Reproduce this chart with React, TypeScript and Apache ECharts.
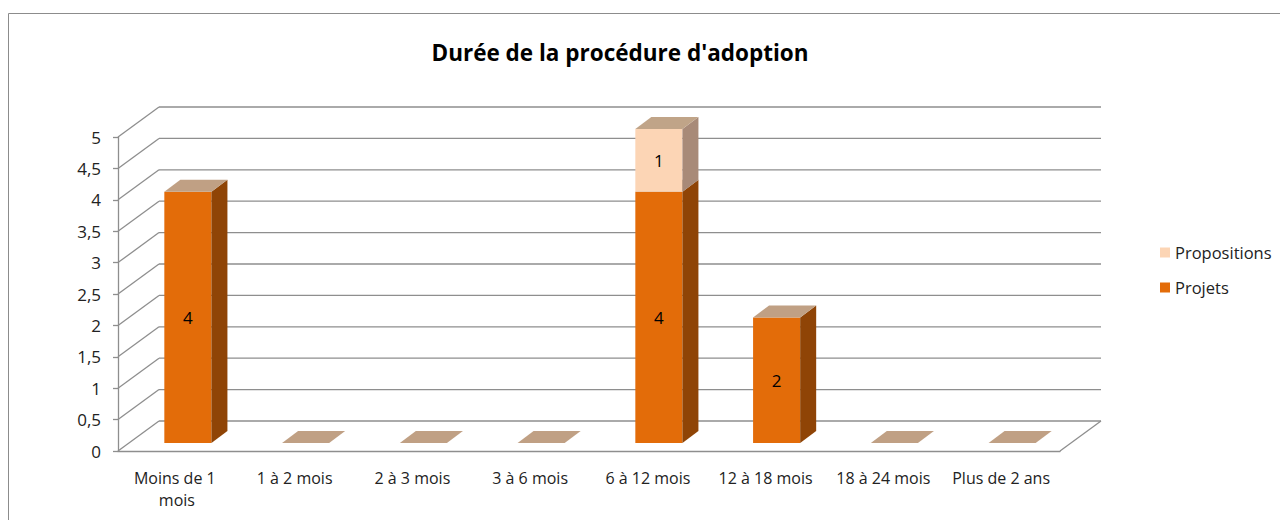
import React, { useEffect, useRef } from "react";
import * as echarts from "echarts";

const categories = [
  "Moins de 1 mois",
  "1 à 2 mois",
  "2 à 3 mois",
  "3 à 6 mois",
  "6 à 12 mois",
  "12 à 18 mois",
  "18 à 24 mois",
  "Plus de 2 ans",
];
const projets = [4, 0, 0, 0, 4, 2, 0, 0];
const propositions = [0, 0, 0, 0, 1, 0, 0, 0];
const yTicks = [0, 0.5, 1, 1.5, 2, 2.5, 3, 3.5, 4, 4.5, 5];

const FONT = "'Open Sans', 'Liberation Sans', sans-serif";
const GRID_COLOR = "#8E8E8E";
const BACK_DX = 41;
const BACK_DY = -30;
const BAR_DX = 11;
const BAR_DY = -8;
const DEPTH_DX = 16;
const DEPTH_DY = -12;

export default function App() {
  const ref = useRef<HTMLDivElement>(null);

  useEffect(() => {
    document.body.style.margin = "0";
    if (!ref.current) return;
    const chart = echarts.init(ref.current, undefined, { renderer: "svg" });

    const wallsRender = (params: any, api: any) => {
      const v = api.value(0);
      const cs = params.coordSys;
      const y = api.coord([0, v])[1];
      const left = cs.x;
      const right = cs.x + cs.width;
      const lineStyle = { stroke: GRID_COLOR, lineWidth: 1.3, fill: "none" };
      const children: any[] = [
        {
          type: "line",
          shape: { x1: left + BACK_DX, y1: y + BACK_DY, x2: right + BACK_DX, y2: y + BACK_DY },
          style: lineStyle,
        },
        {
          type: "line",
          shape: { x1: left, y1: y, x2: left + BACK_DX, y2: y + BACK_DY },
          style: lineStyle,
        },
      ];
      if (v === 0) {
        children.push({
          type: "line",
          shape: { x1: right, y1: y, x2: right + BACK_DX, y2: y + BACK_DY },
          style: lineStyle,
        });
      }
      return { type: "group", children };
    };

    const makeBarRender = (front: string, side: string, top: string, values: number[], bases: number[], isBase: boolean) =>
      (params: any, api: any) => {
        const i = params.dataIndex;
        const val = values[i];
        const base = bases[i];
        if (!isBase && val === 0) return { type: "group", children: [] };
        const p0 = api.coord([i, base]);
        const p1 = api.coord([i, base + val]);
        const w = api.size([1, 0])[0] * 0.4;
        const xc = p0[0] + BAR_DX;
        const xl = xc - w / 2;
        const xr = xc + w / 2;
        const yb = p0[1] + BAR_DY;
        const yt = p1[1] + BAR_DY;
        const children: any[] = [];
        if (val > 0) {
          children.push({
            type: "rect",
            shape: { x: xl, y: yt, width: w, height: yb - yt },
            style: { fill: front },
          });
          children.push({
            type: "polygon",
            shape: {
              points: [
                [xr, yb],
                [xr + DEPTH_DX, yb + DEPTH_DY],
                [xr + DEPTH_DX, yt + DEPTH_DY],
                [xr, yt],
              ],
            },
            style: { fill: side },
          });
        }
        children.push({
          type: "polygon",
          shape: {
            points: [
              [xl, yt],
              [xr, yt],
              [xr + DEPTH_DX, yt + DEPTH_DY],
              [xl + DEPTH_DX, yt + DEPTH_DY],
            ],
          },
          style: { fill: top },
        });
        if (val > 0) {
          children.push({
            type: "text",
            style: {
              text: String(val),
              x: xc,
              y: (yt + yb) / 2,
              align: "center",
              verticalAlign: "middle",
              fill: "#000000",
              font: `17px ${FONT}`,
            },
          });
        }
        return { type: "group", children };
      };

    const zeros = categories.map(() => 0);

    chart.setOption({
      animation: false,
      backgroundColor: "#ffffff",
      title: {
        text: "Durée de la procédure d'adoption",
        left: 615,
        textAlign: "center",
        top: 36,
        textStyle: { fontFamily: FONT, fontSize: 22.5, fontWeight: "bold", color: "#000000" },
      },
      graphic: [
        {
          type: "rect",
          shape: { x: 8.5, y: 13.5, width: 1400, height: 600 },
          style: { fill: "none", stroke: "#8C8C8C", lineWidth: 1 },
          silent: true,
          z: -10,
        },
      ],
      legend: {
        data: ["Propositions", "Projets"],
        orient: "vertical",
        left: 1155,
        top: 239,
        icon: "rect",
        itemWidth: 10,
        itemHeight: 10,
        itemGap: 18,
        textStyle: { fontFamily: FONT, fontSize: 16.5, color: "#222222", padding: [0, 0, 0, 0] },
      },
      grid: { left: 118, right: 220, top: 137, bottom: 69 },
      xAxis: {
        type: "category",
        data: categories,
        axisLine: { show: true, lineStyle: { color: GRID_COLOR, width: 1.3 } },
        axisTick: { show: false },
        axisLabel: {
          interval: 0,
          margin: 16,
          width: 106,
          overflow: "break",
          lineHeight: 22,
          fontFamily: FONT,
          fontSize: 16,
          color: "#222222",
        },
        splitLine: { show: false },
      },
      yAxis: {
        type: "value",
        min: 0,
        max: 5,
        interval: 0.5,
        axisLine: { show: true, lineStyle: { color: GRID_COLOR, width: 1.3 } },
        axisTick: { show: true, length: 5, lineStyle: { color: GRID_COLOR, width: 1.3 } },
        axisLabel: {
          margin: 17,
          fontFamily: FONT,
          fontSize: 17,
          color: "#222222",
          formatter: (v: number) => String(v).replace(".", ","),
        },
        splitLine: { show: false },
      },
      series: [
        {
          name: "walls",
          type: "custom",
          renderItem: wallsRender,
          data: yTicks.map((v) => [v]),
          encode: { y: 0 },
          silent: true,
          z: 1,
        },
        {
          name: "Projets",
          type: "custom",
          itemStyle: { color: "#E36C09" },
          renderItem: makeBarRender("#E36C09", "#8F4406", "#C0A084", projets, zeros, true),
          data: projets.map((v, i) => [i, v]),
          encode: { x: 0, y: 1 },
          z: 3,
        },
        {
          name: "Propositions",
          type: "custom",
          itemStyle: { color: "#FCD5B5" },
          renderItem: makeBarRender("#FCD5B5", "#A88A78", "#C0A488", propositions, projets, false),
          data: propositions.map((v, i) => [i, v + projets[i]]),
          encode: { x: 0, y: 1 },
          z: 4,
        },
      ],
    });

    return () => chart.dispose();
  }, []);

  return <div ref={ref} style={{ width: 1280, height: 520 }} />;
}
